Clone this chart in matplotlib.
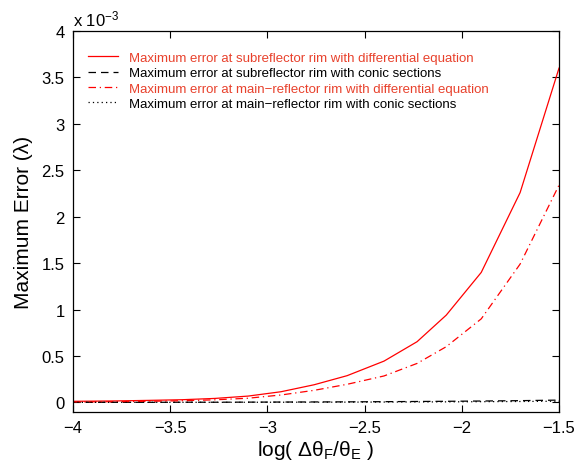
import matplotlib
matplotlib.use("Agg")
import matplotlib.pyplot as plt

plt.rcParams['font.family'] = ['Liberation Sans', 'DejaVu Sans']
plt.rcParams['mathtext.fontset'] = 'custom'
plt.rcParams['mathtext.rm'] = 'Liberation Sans'
plt.rcParams['mathtext.it'] = 'Liberation Sans:italic'
plt.rcParams['mathtext.bf'] = 'Liberation Sans:bold'

# x: log(dtheta_F / theta_E)
log_ratio = [-4.00, -3.78, -3.61, -3.44, -3.27, -3.10, -2.93, -2.76,
             -2.59, -2.40, -2.23, -2.08, -1.90, -1.70, -1.50]
# values in units of 1e-3 wavelengths
sub_diff = [0.012, 0.016, 0.022, 0.029, 0.043, 0.068, 0.115, 0.19,
            0.288, 0.445, 0.654, 0.94, 1.40, 2.26, 3.60]
sub_conic = [0.001, 0.001, 0.001, 0.002, 0.002, 0.003, 0.004, 0.005,
             0.006, 0.008, 0.010, 0.012, 0.015, 0.019, 0.025]
main_diff = [0.005, 0.008, 0.012, 0.018, 0.028, 0.045, 0.08, 0.13,
             0.195, 0.285, 0.42, 0.60, 0.90, 1.49, 2.34]
main_conic = [0.0005, 0.0005, 0.0005, 0.001, 0.001, 0.0015, 0.002, 0.0025,
              0.003, 0.004, 0.005, 0.006, 0.008, 0.010, 0.013]

labels = ['Maximum error at subreflector rim with differential equation',
          'Maximum error at subreflector rim with conic sections',
          'Maximum error at main\u2212reflector rim with differential equation',
          'Maximum error at main\u2212reflector rim with conic sections']

fig = plt.figure(figsize=(5.85, 4.64), dpi=100)
ax = fig.add_axes([73/585, 1-412.7/464, (559-73)/585, (412.7-32)/464])

ax.plot(log_ratio, sub_diff, color='red', lw=0.9, ls='-', label=labels[0])
ax.plot(log_ratio, sub_conic, color='black', lw=0.9, ls=(0, (6, 4)), label=labels[1])
ax.plot(log_ratio, main_diff, color='red', lw=0.9, ls=(0, (6, 3, 1, 3)), label=labels[2])
ax.plot(log_ratio, main_conic, color='black', lw=0.9, ls=(0, (1, 2.5)), label=labels[3])

ax.set_xlim(-4, -1.5)
ax.set_ylim(-0.1, 4)
ax.set_xticks([-4, -3.5, -3, -2.5, -2, -1.5])
ax.set_xticklabels(['\u22124', '\u22123.5', '\u22123', '\u22122.5', '\u22122', '\u22121.5'])
ax.set_yticks([0, 0.5, 1, 1.5, 2, 2.5, 3, 3.5, 4])
ax.set_yticklabels(['0', '0.5', '1', '1.5', '2', '2.5', '3', '3.5', '4'])
ax.tick_params(direction='in', length=5, width=0.8, top=True, right=True,
               labelsize=12, pad=6)
for s in ax.spines.values():
    s.set_linewidth(0.9)

ax.text(0.0, 1.008, 'x 10$^{\\mathrm{\u22123}}$', transform=ax.transAxes,
        fontsize=12, ha='left', va='bottom')

ax.set_xlabel('log( \u0394\u03b8$_{\\mathrm{F}}$/\u03b8$_{\\mathrm{E}}$ )', fontsize=15, labelpad=2)
ax.set_ylabel('Maximum Error (\u03bb)', fontsize=15, labelpad=6)

leg = ax.legend(loc='upper left', frameon=False, fontsize=9.5,
                handlelength=2.3, handletextpad=0.8, labelspacing=0.24,
                bbox_to_anchor=(0.02, 0.96), borderaxespad=0.0)
text_colors = ['#e8412c', 'black', '#e8412c', 'black']
for t, c in zip(leg.get_texts(), text_colors):
    t.set_color(c)

fig.savefig('out.png', dpi=100)
